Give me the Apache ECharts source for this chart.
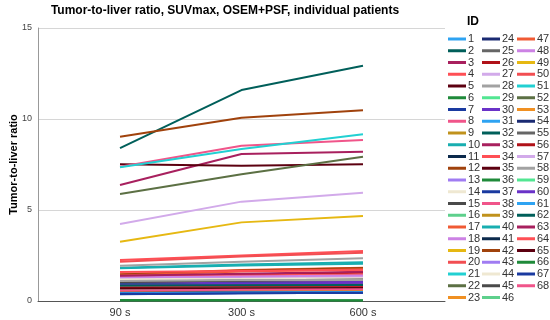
<!DOCTYPE html>
<html><head><meta charset="utf-8">
<script src="https://cdn.jsdelivr.net/npm/echarts@6/dist/echarts.min.js"></script>
<style>html,body{margin:0;padding:0;background:#fff}#c{width:550px;height:320px}</style>
</head><body><div id="c"></div>
<script>
var xLabels = ['90 s', '300 s', '600 s'];
var xPos = [0, 1, 2];
var ids = [];
for (var k = 1; k <= 68; k++) ids.push(String(k));
// values per patient ID (index = ID-1)
var v90 = [0.45,8.40,1.00,2.25,0.70,0.03,0.37,0.60,0.55,1.83,0.75,9.03,0.90,1.25,1.12,0.80,1.47,1.22,0.95,2.15,0.70,0.62,0.52,0.55,1.00,1.33,1.28,1.94,0.90,0.95,0.60,0.90,6.37,1.35,7.51,0.80,0.40,7.38,0.50,1.80,0.70,1.45,0.85,1.20,1.05,0.78,1.40,1.30,3.26,0.75,7.35,5.88,0.48,0.45,0.85,0.72,4.23,1.10,0.65,0.88,0.42,0.85,1.39,1.60,0.68,0.05,0.38,0.58];
var v300 = [0.50,11.59,1.05,2.50,0.72,0.03,0.42,0.65,0.58,2.00,0.80,10.07,0.95,1.30,1.18,0.82,1.70,1.25,1.00,2.45,0.75,0.65,0.55,0.58,1.08,1.45,1.30,2.15,0.92,1.00,0.62,0.95,8.08,1.40,7.43,0.88,0.44,8.53,0.55,1.95,0.78,1.68,0.90,1.22,1.12,0.80,1.62,1.35,4.32,0.78,8.35,6.96,0.50,0.48,0.90,0.75,5.46,1.15,0.70,0.95,0.47,0.87,1.50,1.65,0.70,0.05,0.43,0.62];
var v600 = [0.52,12.93,1.10,2.75,0.72,0.03,0.45,0.68,0.60,2.13,0.82,10.48,0.98,1.32,1.20,0.85,1.83,1.30,1.02,2.65,0.78,0.70,0.58,0.60,1.12,1.55,1.35,2.35,0.95,1.05,0.63,0.98,8.20,1.45,7.51,0.90,0.47,8.85,0.57,2.05,0.80,1.82,0.92,1.25,1.18,0.82,1.75,1.40,4.67,0.80,9.16,7.93,0.52,0.50,0.92,0.76,5.95,1.16,0.72,1.00,0.50,0.88,1.61,1.70,0.72,0.04,0.46,0.65];

var palette = ['#2ea3f2','#005f5a','#a8205e','#ff4f55','#5c0010','#1f8a3a','#1a3aa0','#f0558a','#c0921c','#18aeb0',
               '#0c2a4c','#a0420c','#a07cf2','#efe8d2','#4a4a4a','#5ed08c','#f05a34','#cc82e4','#e6b812','#f24e52',
               '#22d0d2','#5c7044','#f09022','#1a2a72','#666666','#b01218','#d2aaea','#a2a2a2','#52e692','#6a32c8'];

var series = ids.map(function (id, i) {
  return {
    name: id, type: 'line', symbol: 'none', silent: true,
    lineStyle: { width: 2 },
    color: palette[i % 30],
    data: xPos.map(function (x, j) { return [x, [v90, v300, v600][j][i]]; })
  };
});

function mkLegend(left, from, to) {
  return {
    left: left, top: 33.5, orient: 'vertical', selectedMode: false, padding: 0,
    icon: 'rect', itemWidth: 18, itemHeight: 3, itemGap: 0.75,
    textStyle: { fontSize: 11, lineHeight: 11, color: '#333', fontFamily: 'Liberation Sans, Arial', padding: [0, 0, 0, -3] },
    data: ids.slice(from, to)
  };
}

var chart = echarts.init(document.getElementById('c'), null, { renderer: 'canvas' });
chart.setOption({
  animation: false,
  title: [
    { text: 'Tumor-to-liver ratio, SUVmax, OSEM+PSF, individual patients', left: 220, textAlign: 'center', top: 0,
      textStyle: { fontSize: 12, fontWeight: 'bold', color: '#000', fontFamily: 'Liberation Sans, Arial' } },
    { text: 'ID', left: 462, top: 11, textStyle: { fontSize: 12, fontWeight: 'bold', color: '#000', fontFamily: 'Liberation Sans, Arial' } }
  ],
  legend: [mkLegend(448, 0, 23), mkLegend(482, 23, 46), mkLegend(517, 46, 68)],
  grid: { left: 38, right: 105, top: 28, bottom: 19, containLabel: false, outerBoundsMode: 'none' },
  xAxis: {
    type: 'value', min: -0.675, max: 2.675,
    axisLine: { onZero: false, lineStyle: { color: '#555', width: 1 } },
    axisTick: { show: false },
    splitLine: { show: false },
    axisLabel: { customValues: xPos, formatter: function (v) { return xLabels[Math.round(v)]; },
      fontSize: 11, color: '#333', margin: 6, fontFamily: 'Liberation Sans, Arial' }
  },
  yAxis: {
    type: 'value', min: 0, max: 15, interval: 5,
    name: 'Tumor-to-liver ratio', nameLocation: 'middle', nameRotate: 90, nameGap: 19, nameMoveOverlap: false,
    nameTextStyle: { fontSize: 11, fontWeight: 'bold', color: '#000', fontFamily: 'Liberation Sans, Arial' },
    axisLine: { show: true, onZero: false, lineStyle: { color: '#999' } },
    axisTick: { show: false },
    axisLabel: { fontSize: 9, color: '#444', margin: 6, fontFamily: 'Liberation Sans, Arial' },
    splitLine: { lineStyle: { color: '#d6d6d6' } }
  },
  series: series
});
</script></body></html>
